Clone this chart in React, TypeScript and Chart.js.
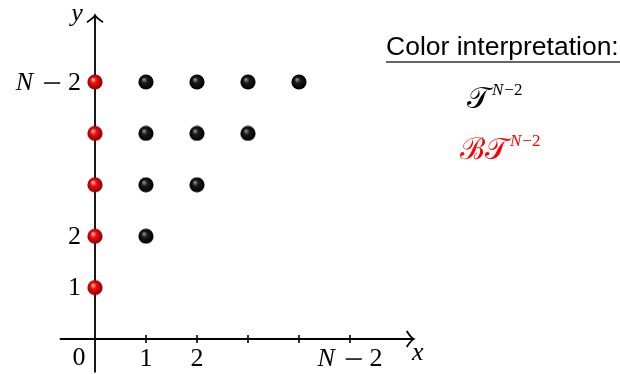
import React, { useEffect, useRef } from "react";
import { Chart, registerables } from "chart.js";

Chart.register(...registerables);

// Data
const redX = [0, 0, 0, 0, 0];
const redY = [1, 2, 3, 4, 5];
const blackX = [1, 1, 1, 1, 2, 2, 2, 3, 3, 4];
const blackY = [2, 3, 4, 5, 3, 4, 5, 4, 5, 5];
const xTickValues = [1, 2, 3, 4, 5];
const xTickLabels = ["1", "2", "", "", "N − 2"];
const yTickValues = [1, 2, 3, 4, 5];
const yTickLabels = ["1", "2", "", "", "N − 2"];
const legendTitle = "Color interpretation:";

const SERIF = "'Liberation Serif', 'DejaVu Serif', serif";
const SANS = "'Liberation Sans', Arial, sans-serif";

function makeSphere(base: string, light: string, dark: string) {
  const size = 16;
  const c = document.createElement("canvas");
  c.width = size;
  c.height = size;
  const g = c.getContext("2d")!;
  const r = 7.6;
  const cx = size / 2;
  const cy = size / 2;
  const grad = g.createRadialGradient(cx - 2.2, cy - 2.6, 0.5, cx, cy, r);
  grad.addColorStop(0, light);
  grad.addColorStop(0.35, base);
  grad.addColorStop(1, dark);
  g.fillStyle = grad;
  g.beginPath();
  g.arc(cx, cy, r, 0, Math.PI * 2);
  g.fill();
  return c;
}

// Draw "N − 2" style label (italic N, long spaced minus)
function drawMathLabel(ctx: CanvasRenderingContext2D, text: string, x: number, y: number, align: "center" | "right" | "left", size: number) {
  ctx.textAlign = "left";
  ctx.textBaseline = "middle";
  if (!text.startsWith("N")) {
    ctx.font = `${size}px ${SERIF}`;
    const w = ctx.measureText(text).width;
    const sx = align === "center" ? x - w / 2 : align === "right" ? x - w : x;
    ctx.fillText(text, sx, y);
    return;
  }
  const rest = text.split("−")[1].trim();
  ctx.font = `italic ${size}px ${SERIF}`;
  const nw = ctx.measureText("N").width;
  ctx.font = `${size}px ${SERIF}`;
  const rw = ctx.measureText(rest).width;
  const gap1 = 0.42 * size;
  const gap2 = 0.3 * size;
  const mw = 0.62 * size;
  const total = nw + gap1 + mw + gap2 + rw;
  let sx = align === "center" ? x - total / 2 : align === "right" ? x - total : x;
  ctx.font = `italic ${size}px ${SERIF}`;
  ctx.fillText("N", sx, y);
  sx += nw + gap1;
  ctx.fillRect(sx, y - 0.7, mw, 1.5);
  sx += mw + gap2;
  ctx.font = `${size}px ${SERIF}`;
  ctx.fillText(rest, sx, y);
}

function arrowHead(ctx: CanvasRenderingContext2D, tx: number, ty: number, dir: "right" | "up") {
  ctx.beginPath();
  if (dir === "right") {
    ctx.moveTo(tx - 7, ty - 8);
    ctx.quadraticCurveTo(tx - 3, ty - 1.5, tx, ty);
    ctx.quadraticCurveTo(tx - 3, ty + 1.5, tx - 7, ty + 8);
  } else {
    ctx.moveTo(tx - 8, ty + 7);
    ctx.quadraticCurveTo(tx - 1.5, ty + 3, tx, ty);
    ctx.quadraticCurveTo(tx + 1.5, ty + 3, tx + 8, ty + 7);
  }
  ctx.stroke();
}

const axesPlugin = {
  id: "mathAxes",
  beforeDatasetsDraw(chart: any) {
    const ctx: CanvasRenderingContext2D = chart.ctx;
    const xs = chart.scales.x;
    const ys = chart.scales.y;
    const x0 = xs.getPixelForValue(0);
    const y0 = ys.getPixelForValue(0);
    ctx.save();
    ctx.strokeStyle = "#000";
    ctx.fillStyle = "#000";
    ctx.lineWidth = 1.8;
    // x axis
    ctx.beginPath();
    ctx.moveTo(xs.getPixelForValue(-0.69), y0);
    ctx.lineTo(xs.getPixelForValue(6.25), y0);
    ctx.stroke();
    arrowHead(ctx, xs.getPixelForValue(6.25), y0, "right");
    // y axis
    ctx.beginPath();
    ctx.moveTo(x0, ys.getPixelForValue(-0.65));
    ctx.lineTo(x0, ys.getPixelForValue(6.3));
    ctx.stroke();
    arrowHead(ctx, x0, ys.getPixelForValue(6.3), "up");
    // x ticks
    ctx.lineWidth = 1.6;
    xTickValues.forEach((v) => {
      const px = xs.getPixelForValue(v);
      ctx.beginPath();
      ctx.moveTo(px, y0 - 4);
      ctx.lineTo(px, y0 + 4);
      ctx.stroke();
    });
    // labels
    const fs = 26;
    xTickValues.forEach((v, i) => {
      if (xTickLabels[i]) drawMathLabel(ctx, xTickLabels[i], xs.getPixelForValue(v), y0 + 20, "center", fs);
    });
    yTickValues.forEach((v, i) => {
      if (yTickLabels[i]) drawMathLabel(ctx, yTickLabels[i], x0 - 14, ys.getPixelForValue(v) + 1, "right", fs);
    });
    drawMathLabel(ctx, "0", x0 - 16, y0 + 19, "center", fs);
    ctx.font = `italic ${fs}px ${SERIF}`;
    ctx.textAlign = "center";
    ctx.textBaseline = "middle";
    ctx.fillText("x", xs.getPixelForValue(6.33), y0 + 14);
    ctx.fillText("y", x0 - 18, ys.getPixelForValue(6.3) - 1);

    // legend box
    ctx.font = `26.5px ${SANS}`;
    ctx.textAlign = "left";
    ctx.textBaseline = "alphabetic";
    ctx.fillText(legendTitle, 386, 55);
    ctx.strokeStyle = "#666";
    ctx.lineWidth = 2;
    ctx.beginPath();
    ctx.moveTo(386, 62);
    ctx.lineTo(620, 62);
    ctx.stroke();

    const drawEntry = (main: string, sx: number, base: number, color: string) => {
      ctx.fillStyle = color;
      ctx.font = `30px ${SERIF}`;
      const mw = ctx.measureText(main).width;
      ctx.fillText(main, sx, base);
      sx += mw + 2;
      ctx.font = `italic 17px ${SERIF}`;
      const nw = ctx.measureText("N").width;
      ctx.fillText("N", sx, base - 13);
      sx += nw + 1;
      ctx.font = `17px ${SERIF}`;
      ctx.fillText("−2", sx, base - 13);
    };
    drawEntry("𝒯", 467, 108, "#000");
    drawEntry("ℬ𝒯", 460, 159, "#ff0000");
    ctx.restore();
  },
};

export default function App() {
  const ref = useRef<HTMLCanvasElement>(null);
  useEffect(() => {
    document.body.style.margin = "0";
    const redSphere = makeSphere("#f01010", "#ffb0b0", "#8a0000");
    const blackSphere = makeSphere("#1a1a1a", "#8c8c8c", "#000000");
    const chart = new Chart(ref.current!, {
      type: "scatter",
      data: {
        datasets: [
          {
            label: "T",
            data: blackX.map((x, i) => ({ x, y: blackY[i] })),
            pointStyle: blackSphere as any,
            pointRadius: 8,
          },
          {
            label: "BT",
            data: redX.map((x, i) => ({ x, y: redY[i] })),
            pointStyle: redSphere as any,
            pointRadius: 8,
          },
        ],
      },
      options: {
        animation: false,
        responsive: false,
        layout: { padding: 0, autoPadding: false },
        plugins: { legend: { display: false }, tooltip: { enabled: false } },
        scales: {
          x: { type: "linear", min: -95 / 51, max: (620 - 95) / 51, display: false },
          y: { type: "linear", min: -(374 - 339) / 51.4, max: 339 / 51.4, display: false },
        },
      },
      plugins: [axesPlugin],
    });
    return () => chart.destroy();
  }, []);
  return <canvas ref={ref} width={620} height={374} style={{ display: "block" }} />;
}
